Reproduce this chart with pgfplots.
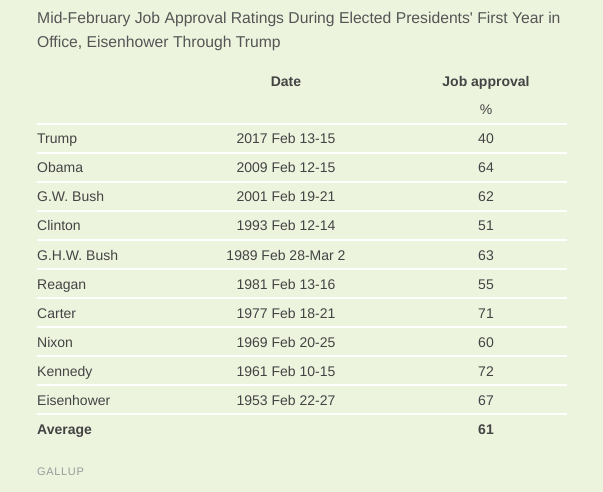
\documentclass[border=0pt]{standalone}
\usepackage{pgfplots}
\pgfplotsset{compat=1.18}
\usepackage{fontspec}
\setmainfont{Liberation Sans}
\definecolor{bgcol}{HTML}{EDF4DE}
\definecolor{txt}{HTML}{444444}
\definecolor{ttl}{HTML}{555555}
\definecolor{src}{HTML}{9A9A9A}
\begin{document}
\begin{tikzpicture}
\begin{axis}[
  width=603pt, height=492pt, scale only axis,
  xmin=0, xmax=603, ymin=0, ymax=492, y dir=reverse,
  hide axis, clip=false,
  point meta=explicit symbolic,
]
\fill[bgcol] (axis cs:0,0) rectangle (axis cs:603,492);
% rules
\pgfplotsinvokeforeach{124,153,182,211,240,269,298,327,356,385,414}{
  \draw[white, line width=1.2pt] (axis cs:37,#1) -- (axis cs:567,#1);
}
% title
\node[anchor=base west, inner sep=0pt, text=ttl, font=\fontsize{15.7}{18}\selectfont] at (axis cs:37,24) {Mid-February Job Approval Ratings During Elected Presidents\textquotesingle{} First Year in};
\node[anchor=base west, inner sep=0pt, text=ttl, font=\fontsize{15.7}{18}\selectfont] at (axis cs:37,48) {Office, Eisenhower Through Trump};
% headers
\node[anchor=base, inner sep=0pt, text=txt, font=\fontsize{14}{16}\selectfont\bfseries] at (axis cs:286,87) {Date};
\node[anchor=base, inner sep=0pt, text=txt, font=\fontsize{14}{16}\selectfont\bfseries] at (axis cs:486,87) {Job approval};
\node[anchor=base, inner sep=0pt, text=txt, font=\fontsize{14}{16}\selectfont] at (axis cs:486,115) {\%};
% names
\addplot[draw=none, mark=none, nodes near coords,
  nodes near coords style={anchor=base west, inner sep=0pt, text=txt, font=\fontsize{14}{16}\selectfont}]
  table[col sep=comma, row sep=\\, x expr=37, y=y, meta=label] {
y,label\\
144,Trump\\
173,Obama\\
202,G.W. Bush\\
231,Clinton\\
260,G.H.W. Bush\\
289,Reagan\\
318,Carter\\
347,Nixon\\
376,Kennedy\\
405,Eisenhower\\
};
% dates
\addplot[draw=none, mark=none, nodes near coords,
  nodes near coords style={anchor=base, inner sep=0pt, text=txt, font=\fontsize{14}{16}\selectfont}]
  table[col sep=comma, row sep=\\, x expr=286, y=y, meta=label] {
y,label\\
144,2017 Feb 13-15\\
173,2009 Feb 12-15\\
202,2001 Feb 19-21\\
231,1993 Feb 12-14\\
260,1989 Feb 28-Mar 2\\
289,1981 Feb 13-16\\
318,1977 Feb 18-21\\
347,1969 Feb 20-25\\
376,1961 Feb 10-15\\
405,1953 Feb 22-27\\
};
% approval values
\addplot[draw=none, mark=none, nodes near coords,
  nodes near coords style={anchor=base, inner sep=0pt, text=txt, font=\fontsize{14}{16}\selectfont}]
  table[col sep=comma, row sep=\\, x expr=486, y=y, meta=label] {
y,label\\
144,40\\
173,64\\
202,62\\
231,51\\
260,63\\
289,55\\
318,71\\
347,60\\
376,72\\
405,67\\
};
% average row
\addplot[draw=none, mark=none, nodes near coords,
  nodes near coords style={anchor=base west, inner sep=0pt, text=txt, font=\fontsize{14}{16}\selectfont\bfseries}]
  table[col sep=comma, row sep=\\, x expr=37, y=y, meta=label] {
y,label\\
434,Average\\
};
\addplot[draw=none, mark=none, nodes near coords,
  nodes near coords style={anchor=base, inner sep=0pt, text=txt, font=\fontsize{14}{16}\selectfont\bfseries}]
  table[col sep=comma, row sep=\\, x expr=486, y=y, meta=label] {
y,label\\
434,61\\
};
% source
\node[anchor=base west, inner sep=0pt, text=src, font=\fontsize{11}{12}\selectfont\addfontfeature{LetterSpace=6}] at (axis cs:37,475) {GALLUP};
\end{axis}
\end{tikzpicture}
\end{document}
